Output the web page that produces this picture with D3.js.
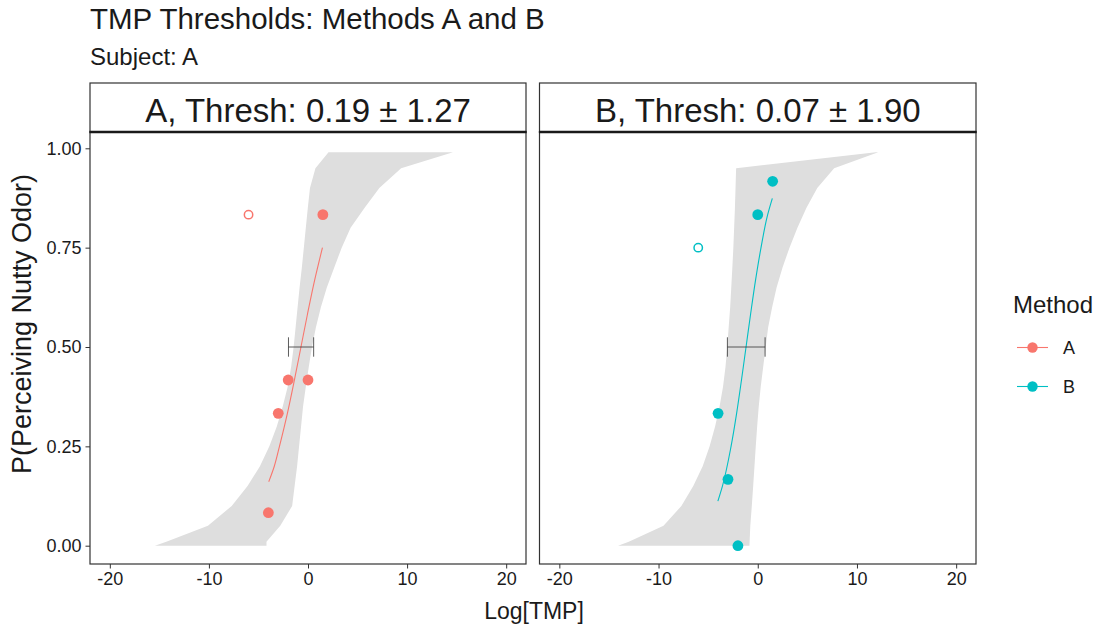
<!DOCTYPE html>
<html>
<head>
<meta charset="utf-8">
<script src="https://d3js.org/d3.v7.min.js"></script>
<style>
body {margin:0; background:white;}
text {font-family: "Liberation Sans", Arial, sans-serif; fill:#1a1a1a;}
</style>
</head>
<body>
<svg width="1099" height="628"></svg>
<script>
// facets
var methods = ["A", "B"];
var stripLabels = ["A, Thresh: 0.19 \u00b1 1.27", "B, Thresh: 0.07 \u00b1 1.90"];
var colors = ["#F8766D", "#00BFC4"];
var xTicks = [-20, -10, 0, 10, 20];
var yTicks = [0, 0.25, 0.5, 0.75, 1];
var yTickLabels = ["0.00", "0.25", "0.50", "0.75", "1.00"];

// observed points
var ptsAx = [-4, -3, -2, 0, 1.5];
var ptsAp = [0.083, 0.333, 0.417, 0.417, 0.833];
var ptsBx = [-4, -3, -2, 0, 1.5];
var ptsBp = [0.333, 0.167, 0, 0.833, 0.917];
// excluded (open) points
var outAx = [-6], outAp = [0.833];
var outBx = [-6], outBp = [0.75];

// fitted curves
var fitAx = [-3.96, -3.4, -2.88, -2.08, -1.37, -0.71, -0.05, 0.66, 1.46];
var fitAp = [0.161, 0.2, 0.25, 0.333, 0.417, 0.5, 0.583, 0.667, 0.75];
var fitBx = [-4.02, -3.56, -2.69, -2.13, -1.64, -1.18, -0.72, -0.23, 0.33, 1.0, 1.47];
var fitBp = [0.112, 0.15, 0.25, 0.333, 0.417, 0.5, 0.583, 0.667, 0.75, 0.833, 0.874];

// threshold error bars (at p = 0.5)
var errA = [-1.97, 0.57];
var errB = [-3.06, 0.74];

// confidence ribbons
var ribP   = [0, 0.01, 0.05, 0.1, 0.15, 0.2, 0.25, 0.3, 0.35, 0.4, 0.45, 0.5, 0.55, 0.6, 0.65, 0.7, 0.75, 0.8, 0.85, 0.9, 0.95, 0.99];
var ribAlo = [-15.45, -14.3, -10.1, -7.7, -6.1, -4.85, -3.9, -3.15, -2.55, -2.05, -1.7, -1.45, -1.25, -1.05, -0.85, -0.62, -0.42, -0.22, -0.02, 0.2, 0.75, 2.07];
var ribAhi = [-4.19, -4.19, -2.8, -1.6, -1.35, -1.1, -0.9, -0.7, -0.5, -0.22, 0.08, 0.4, 0.8, 1.3, 1.9, 2.65, 3.4, 4.3, 5.7, 7.2, 9.4, 14.63];
var ribBlo = [-14.08, -13.0, -9.5, -7.7, -6.5, -5.55, -4.85, -4.3, -3.85, -3.5, -3.25, -3.08, -2.93, -2.78, -2.67, -2.56, -2.46, -2.38, -2.3, -2.24, -2.18, 11.9];
var ribBhi = [-0.84, -0.82, -0.75, -0.6, -0.46, -0.33, -0.2, -0.06, 0.1, 0.3, 0.55, 0.8, 1.05, 1.45, 1.9, 2.5, 3.2, 4.0, 4.9, 6.0, 7.7, 12.14];

var panels = [
  {left: 90, right: 526, pts: [ptsAx, ptsAp], out: [outAx, outAp], fit: [fitAx, fitAp], err: errA, lo: ribAlo, hi: ribAhi},
  {left: 539.5, right: 976, pts: [ptsBx, ptsBp], out: [outBx, outBp], fit: [fitBx, fitBp], err: errB, lo: ribBlo, hi: ribBhi}
];
var panelTop = 132, panelBottom = 564, stripTop = 83;

var svg = d3.select("svg");
var y = d3.scaleLinear().domain([0, 1]).range([545.7, 148.3]);

svg.append("text").attr("x", 90).attr("y", 29).style("font-size", "29.5px")
  .text("TMP Thresholds: Methods A and B");
svg.append("text").attr("x", 90).attr("y", 65).style("font-size", "24px")
  .text("Subject: A");

panels.forEach(function(p, i) {
  var x = d3.scaleLinear().domain([-22, 22]).range([p.left, p.right]);
  var g = svg.append("g");

  // ribbon
  var rib = ribP.map(function(v, k) { return {p: v, lo: p.lo[k], hi: p.hi[k]}; });
  g.append("path").datum(rib)
    .attr("fill", "#dedede")
    .attr("d", d3.area().y(function(d) { return y(d.p); })
      .x0(function(d) { return x(d.lo); }).x1(function(d) { return x(d.hi); }));

  // fitted line
  var fit = p.fit[0].map(function(v, k) { return [v, p.fit[1][k]]; });
  g.append("path").datum(fit)
    .attr("fill", "none").attr("stroke", colors[i]).attr("stroke-width", 1.1)
    .attr("d", d3.line().x(function(d) { return x(d[0]); }).y(function(d) { return y(d[1]); })
      .curve(d3.curveMonotoneY));

  // error bar
  g.append("line").attr("x1", x(p.err[0])).attr("x2", x(p.err[1]))
    .attr("y1", y(0.5)).attr("y2", y(0.5)).attr("stroke", "#333").attr("stroke-width", 0.8);
  p.err.forEach(function(e) {
    g.append("line").attr("x1", x(e)).attr("x2", x(e))
      .attr("y1", y(0.5) - 9.7).attr("y2", y(0.5) + 9.7).attr("stroke", "#333").attr("stroke-width", 0.8);
  });

  // points
  g.selectAll(".pt").data(p.pts[0]).enter().append("circle")
    .attr("cx", function(d) { return x(d); })
    .attr("cy", function(d, k) { return y(p.pts[1][k]); })
    .attr("r", 5.4).attr("fill", colors[i]);
  g.selectAll(".op").data(p.out[0]).enter().append("circle")
    .attr("cx", function(d) { return x(d); })
    .attr("cy", function(d, k) { return y(p.out[1][k]); })
    .attr("r", 4.2).attr("fill", "white").attr("stroke", colors[i]).attr("stroke-width", 1.5);

  // panel border
  g.append("rect").attr("x", p.left).attr("y", panelTop).attr("width", p.right - p.left)
    .attr("height", panelBottom - panelTop).attr("fill", "none").attr("stroke", "#333").attr("stroke-width", 1.2);

  // strip
  g.append("rect").attr("x", p.left).attr("y", stripTop).attr("width", p.right - p.left)
    .attr("height", panelTop - stripTop).attr("fill", "white").attr("stroke", "#333").attr("stroke-width", 1.2);
  g.append("line").attr("x1", p.left - 0.6).attr("x2", p.right + 0.6).attr("y1", panelTop).attr("y2", panelTop)
    .attr("stroke", "#1a1a1a").attr("stroke-width", 2.4);
  g.append("text").attr("x", (p.left + p.right) / 2).attr("y", 121.5)
    .attr("text-anchor", "middle").style("font-size", "33px").text(stripLabels[i]);

  // x axis
  var xa = svg.append("g").attr("transform", "translate(0," + panelBottom + ")")
    .call(d3.axisBottom(x).tickValues(xTicks).tickSize(4.5).tickPadding(4)
      .tickFormat(function(d) { return String(d); }));
  xa.select(".domain").remove();
  xa.selectAll("line").attr("stroke", "#333");
  xa.selectAll("text").style("font-size", "18px").attr("fill", "#4d4d4d")
    .style("font-family", "Liberation Sans, Arial, sans-serif");

  if (i === 0) {
    var ya = svg.append("g").attr("transform", "translate(" + p.left + ",0)")
      .call(d3.axisLeft(y).tickValues(yTicks).tickSize(4.5).tickPadding(4)
        .tickFormat(function(d, k) { return yTickLabels[k]; }));
    ya.select(".domain").remove();
    ya.selectAll("line").attr("stroke", "#333");
    ya.selectAll("text").style("font-size", "18px").attr("fill", "#4d4d4d")
      .style("font-family", "Liberation Sans, Arial, sans-serif");
  }
});

// axis titles
svg.append("text").attr("x", 534).attr("y", 619).attr("text-anchor", "middle")
  .style("font-size", "23px").text("Log[TMP]");
svg.append("text").attr("transform", "translate(31,324) rotate(-90)").attr("text-anchor", "middle")
  .style("font-size", "27px").text("P(Perceiving Nutty Odor)");

// legend
svg.append("text").attr("x", 1013).attr("y", 313).style("font-size", "24px").text("Method");
var leg = svg.selectAll(".leg").data(methods).enter().append("g")
  .attr("transform", function(d, k) { return "translate(0," + (347.5 + k * 39) + ")"; });
leg.append("line").attr("x1", 1017).attr("x2", 1048).attr("y1", 0).attr("y2", 0)
  .attr("stroke", function(d, k) { return colors[k]; }).attr("stroke-width", 1.1);
leg.append("circle").attr("cx", 1032.5).attr("cy", 0).attr("r", 5.2)
  .attr("fill", function(d, k) { return colors[k]; });
leg.append("text").attr("x", 1063).attr("y", 6.5).style("font-size", "18px").text(function(d) { return d; });
</script>
</body>
</html>
